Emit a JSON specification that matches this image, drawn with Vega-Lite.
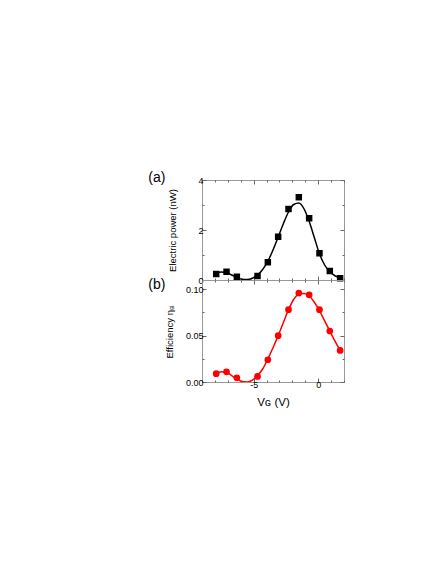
{
  "$schema": "https://vega.github.io/schema/vega-lite/v6.json",
  "padding": {"left": 147, "top": 170, "right": 5, "bottom": 5},
  "spacing": 0,
  "bounds": "flush",
  "config": {
    "font": "Liberation Sans",
    "view": {"stroke": "#999999", "strokeWidth": 1},
    "axis": {
      "domain": false,
      "grid": false,
      "tickColor": "#666666",
      "labelFont": "Liberation Sans",
      "titleFont": "Liberation Sans",
      "labelFontSize": 9,
      "titleFontSize": 9.5,
      "titleFontWeight": "normal",
      "labelColor": "#000000",
      "titleColor": "#000000"
    }
  },
  "datasets": {
    "pts": [
      {"V": -7.9, "P": 0.24, "eta": 0.009},
      {"V": -7.1, "P": 0.33, "eta": 0.011},
      {"V": -6.3, "P": 0.13, "eta": 0.0046},
      {"V": -4.7, "P": 0.16, "eta": 0.006},
      {"V": -3.9, "P": 0.71, "eta": 0.024},
      {"V": -3.1, "P": 1.73, "eta": 0.05},
      {"V": -2.3, "P": 2.84, "eta": 0.078},
      {"V": -1.5, "P": 3.31, "eta": 0.096},
      {"V": -0.7, "P": 2.47, "eta": 0.094},
      {"V": 0.1, "P": 1.07, "eta": 0.078},
      {"V": 0.9, "P": 0.36, "eta": 0.055},
      {"V": 1.7, "P": 0.07, "eta": 0.034}
    ],
    "fit": [
      {"V": -7.9, "P": 0.27, "eta": 0.009},
      {"V": -7.5, "P": 0.32, "eta": 0.011},
      {"V": -7.1, "P": 0.3, "eta": 0.0105},
      {"V": -6.7, "P": 0.2, "eta": 0.007},
      {"V": -6.3, "P": 0.1, "eta": 0.003},
      {"V": -5.9, "P": 0.03, "eta": 0.0005},
      {"V": -5.5, "P": 0.02, "eta": 0.0},
      {"V": -5.1, "P": 0.07, "eta": 0.002},
      {"V": -4.7, "P": 0.2, "eta": 0.007},
      {"V": -4.3, "P": 0.42, "eta": 0.014},
      {"V": -3.9, "P": 0.75, "eta": 0.025},
      {"V": -3.5, "P": 1.2, "eta": 0.037},
      {"V": -3.1, "P": 1.72, "eta": 0.05},
      {"V": -2.7, "P": 2.25, "eta": 0.064},
      {"V": -2.3, "P": 2.72, "eta": 0.078},
      {"V": -1.9, "P": 3.02, "eta": 0.089},
      {"V": -1.5, "P": 3.08, "eta": 0.095},
      {"V": -1.1, "P": 2.85, "eta": 0.0955},
      {"V": -0.7, "P": 2.35, "eta": 0.093},
      {"V": -0.3, "P": 1.7, "eta": 0.086},
      {"V": 0.1, "P": 1.05, "eta": 0.077},
      {"V": 0.5, "P": 0.6, "eta": 0.066},
      {"V": 0.9, "P": 0.33, "eta": 0.055},
      {"V": 1.3, "P": 0.17, "eta": 0.044},
      {"V": 1.7, "P": 0.08, "eta": 0.034}
    ]
  },
  "vconcat": [
    {
      "width": 142,
      "height": 100,
      "layer": [
        {
          "data": {"name": "fit"},
          "mark": {"type": "line", "color": "#000000", "strokeWidth": 1.5, "interpolate": "monotone", "clip": true},
          "encoding": {
            "x": {"field": "V", "type": "quantitative", "scale": {"domain": [-9, 2], "nice": false, "zero": false},
              "axis": {"orient": "bottom", "title": null, "labels": false, "minExtent": 0, "maxExtent": 0, "values": [-9,-8,-7,-6,-5,-4,-3,-2,-1,0,1,2],
                "tickSize": {"condition": {"test": "datum.value % 5 === 0", "value": -4}, "value": -2}}},
            "y": {"field": "P", "type": "quantitative", "scale": {"domain": [0, 4], "nice": false},
              "axis": {"orient": "left", "title": "Electric power (nW)", "titlePadding": 20, "values": [0,1,2,3,4],
                "labelExpr": "datum.value % 2 === 0 ? toString(datum.value) : ''", "labelPadding": 3,
                "tickSize": {"condition": {"test": "datum.value % 2 === 0", "value": -4}, "value": -2}}}
          }
        },
        {
          "data": {"name": "pts"},
          "mark": {"type": "square", "color": "#000000", "opacity": 1, "size": 42, "filled": true},
          "encoding": {
            "x": {"field": "V", "type": "quantitative",
              "axis": {"orient": "top", "title": null, "labels": false, "values": [-9,-8,-7,-6,-5,-4,-3,-2,-1,0,1,2],
                "tickSize": {"condition": {"test": "datum.value % 5 === 0", "value": -4}, "value": -2}}},
            "y": {"field": "P", "type": "quantitative",
              "axis": {"orient": "right", "title": null, "labels": false, "values": [0,1,2,3,4],
                "tickSize": {"condition": {"test": "datum.value % 2 === 0", "value": -4}, "value": -2}}}
          }
        },
        {
          "mark": {"type": "rule", "color": "#3a3aa0", "strokeDash": [3, 2], "strokeWidth": 1},
          "encoding": {"x": {"datum": 0, "type": "quantitative", "axis": null}}
        },
        {
          "data": {"values": [{"lab": "(a)"}]},
          "mark": {"type": "text", "fontSize": 14, "font": "Liberation Sans", "align": "center", "baseline": "middle", "clip": false},
          "encoding": {
            "x": {"datum": -12.5, "type": "quantitative", "axis": null},
            "y": {"datum": 4.08, "type": "quantitative", "axis": null},
            "text": {"field": "lab"}
          }
        }
      ],
      "resolve": {"axis": {"x": "independent", "y": "independent"}}
    },
    {
      "width": 142,
      "height": 102,
      "layer": [
        {
          "data": {"name": "fit"},
          "mark": {"type": "line", "color": "#ff0000", "strokeWidth": 1.5, "interpolate": "monotone", "clip": true},
          "encoding": {
            "x": {"field": "V", "type": "quantitative", "scale": {"domain": [-9, 2], "nice": false, "zero": false},
              "axis": {"orient": "bottom", "title": "Vɢ (V)", "titleFontSize": 11.5, "titlePadding": 7, "values": [-9,-8,-7,-6,-5,-4,-3,-2,-1,0,1,2],
                "labelExpr": "datum.value % 5 === 0 ? toString(datum.value) : ''", "labelPadding": 2,
                "tickSize": {"condition": {"test": "datum.value % 5 === 0", "value": -4}, "value": -2}}},
            "y": {"field": "eta", "type": "quantitative", "scale": {"domain": [0, 0.11], "nice": false},
              "axis": {"orient": "left", "title": "Efficiency ηₑₗ", "titlePadding": 11, "values": [0, 0.025, 0.05, 0.075, 0.1],
                "labelExpr": "abs(datum.value*20 - round(datum.value*20)) < 0.001 ? format(datum.value, '.2f') : ''", "labelPadding": 3,
                "tickSize": {"condition": {"test": "abs(datum.value*20 - round(datum.value*20)) < 0.001", "value": -4}, "value": -2}}}
          }
        },
        {
          "data": {"name": "pts"},
          "mark": {"type": "circle", "color": "#ff0000", "opacity": 1, "size": 45},
          "encoding": {
            "x": {"field": "V", "type": "quantitative",
              "axis": {"orient": "top", "title": null, "labels": false, "minExtent": 0, "maxExtent": 0, "values": [-9,-8,-7,-6,-5,-4,-3,-2,-1,0,1,2],
                "tickSize": {"condition": {"test": "datum.value % 5 === 0", "value": -4}, "value": -2}}},
            "y": {"field": "eta", "type": "quantitative",
              "axis": {"orient": "right", "title": null, "labels": false, "values": [0, 0.025, 0.05, 0.075, 0.1],
                "tickSize": {"condition": {"test": "abs(datum.value*20 - round(datum.value*20)) < 0.001", "value": -4}, "value": -2}}}
          }
        },
        {
          "mark": {"type": "rule", "color": "#3a3aa0", "strokeDash": [3, 2], "strokeWidth": 1},
          "encoding": {"x": {"datum": 0, "type": "quantitative", "axis": null}}
        },
        {
          "data": {"values": [{"lab": "(b)"}]},
          "mark": {"type": "text", "fontSize": 14, "font": "Liberation Sans", "align": "center", "baseline": "middle", "clip": false},
          "encoding": {
            "x": {"datum": -12.5, "type": "quantitative", "axis": null},
            "y": {"datum": 0.105, "type": "quantitative", "axis": null},
            "text": {"field": "lab"}
          }
        }
      ],
      "resolve": {"axis": {"x": "independent", "y": "independent"}}
    }
  ]
}
